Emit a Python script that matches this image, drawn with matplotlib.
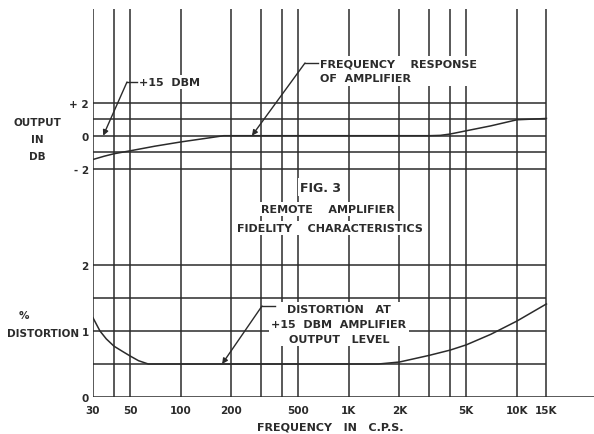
import matplotlib
matplotlib.use("Agg")
import matplotlib.pyplot as plt
from matplotlib.lines import Line2D

# ---------------- data ----------------
grid_freqs = [30, 40, 50, 100, 200, 300, 400, 500, 1000, 2000, 3000, 4000, 5000, 10000, 15000]
xtick_freqs = [30, 50, 100, 200, 500, 1000, 2000, 5000, 10000, 15000]
xtick_labels = ["30", "50", "100", "200", "500", "1K", "2K", "5K", "10K", "15K"]

db_grid = [-2, -1, 0, 1, 2]
db_ticks = [2, 0, -2]
db_tick_labels = ["+ 2", "0", "- 2"]

dist_grid = [0.5, 1.0, 1.5, 2.0]
dist_ticks = [0, 1, 2]
dist_tick_labels = ["0", "1", "2"]

resp_freq = [30, 35, 40, 50, 70, 100, 150, 180, 300, 1000, 3000, 3500, 4000, 5000, 7000, 10000, 15000]
resp_db = [-1.45, -1.25, -1.1, -0.92, -0.64, -0.38, -0.12, 0.0, 0.0, 0.0, 0.0, 0.02, 0.1, 0.3, 0.6, 0.97, 1.05]

dist_freq = [30, 33, 36, 40, 45, 50, 56, 64, 1000, 1500, 2000, 3000, 4000, 5000, 7000, 10000, 15000]
dist_pct = [1.2, 1.0, 0.88, 0.77, 0.69, 0.62, 0.55, 0.5, 0.5, 0.5, 0.53, 0.63, 0.71, 0.79, 0.95, 1.15, 1.41]

# ---------------- figure ----------------
W, H = 594, 435
fig = plt.figure(figsize=(W / 100, H / 100), dpi=100)
fig.patch.set_facecolor("white")

INK = "#2b2b2b"
LW = 1.1
FS = 7.5      # axis labels / ticks
FSA = 8       # annotations
FW = "bold"

def px(x, y):
    return x / W, 1 - y / H

x_left = 93
x_max_freq = 30 * 10 ** ((W - x_left) / 168.0)

# top axes: pixel rows 10..230 ; 0 dB at 136.7, 16.4 px/dB
top_y0, top_y1 = 10, 230
db_zero, db_scale = 136.7, 16.4
ax1 = fig.add_axes([x_left / W, (H - top_y1) / H, 1 - x_left / W, (top_y1 - top_y0) / H])
ax1.set_ylim((db_zero - top_y1) / db_scale, (db_zero - top_y0) / db_scale)

# bottom axes: pixel rows 230..398 ; 0 % at 398, 66 px/%
bot_y0, bot_y1 = 230, 398
pct_scale = 66.0
ax2 = fig.add_axes([x_left / W, (H - bot_y1) / H, 1 - x_left / W, (bot_y1 - bot_y0) / H])
ax2.set_ylim(0, (bot_y1 - bot_y0) / pct_scale)

for ax in (ax1, ax2):
    ax.set_xscale("log")
    ax.set_xlim(30, x_max_freq)
    ax.set_facecolor("none")
    for s in ax.spines.values():
        s.set_visible(False)
    ax.minorticks_off()
    for f in grid_freqs:
        ax.axvline(f, color=INK, lw=LW, zorder=1)
    ax.tick_params(length=0, labelsize=FS, colors=INK, pad=3)

ax1.hlines(db_grid, 30, 15000, color=INK, lw=LW, zorder=1)
ax2.hlines(dist_grid, 30, 15000, color=INK, lw=LW, zorder=1)
ax2.hlines([0], 30, x_max_freq, color=INK, lw=LW, zorder=1)

ax1.plot(resp_freq, resp_db, color=INK, lw=LW, zorder=2)
ax2.plot(dist_freq, dist_pct, color=INK, lw=LW, zorder=2)

ax1.set_xticks([])
ax1.set_yticks(db_ticks)
ax1.set_yticklabels(db_tick_labels)
ax2.set_yticks(dist_ticks)
ax2.set_yticklabels(dist_tick_labels)
ax2.set_xticks(xtick_freqs)
ax2.set_xticklabels(xtick_labels)
ax2.tick_params(axis="x", pad=6)

for t in ax1.get_yticklabels() + ax2.get_yticklabels() + ax2.get_xticklabels():
    t.set_family("DejaVu Sans")
    t.set_fontweight(FW)

# ---------------- labels ----------------
def ftext(x, y, s, ha="center", va="center", box=False, size=FS, **kw):
    kwargs = dict(ha=ha, va=va, fontsize=size, color=INK, linespacing=1.6,
                  fontweight=FW, zorder=5)
    if box:
        kwargs["bbox"] = dict(facecolor="white", edgecolor="none", pad=1.5)
    kwargs.update(kw)
    return fig.text(*px(x, y), s, **kwargs)

ftext(37, 140, "OUTPUT\nIN\nDB", linespacing=1.9)
ftext(24, 316, "%")
ftext(43, 334, "DISTORTION")
ftext(330, 428, "FREQUENCY   IN   C.P.S.", size=FSA)

ftext(321, 188, "FIG. 3", box=True, size=9)
ftext(328, 210, "REMOTE    AMPLIFIER", box=True, size=FSA)
ftext(330, 229, "FIDELITY    CHARACTERISTICS", box=True, size=FSA)

ftext(139, 83, "+15  DBM", ha="left", box=True, size=FSA)
ftext(320, 72, "FREQUENCY    RESPONSE\nOF  AMPLIFIER", ha="left", box=True, size=FSA)
ftext(339, 325, "DISTORTION   AT\n+15  DBM  AMPLIFIER\nOUTPUT   LEVEL", box=True, size=FSA)

# ---------------- leaders with arrows ----------------
def leader(ax, dash_x0, dash_x1, dash_y, target):
    fig.add_artist(Line2D([dash_x0 / W, dash_x1 / W], [1 - dash_y / H, 1 - dash_y / H],
                          color=INK, lw=1.0, transform=fig.transFigure, zorder=6))
    ax.annotate("", xy=target, xycoords="data",
                xytext=(dash_x0, H - dash_y), textcoords="figure pixels",
                arrowprops=dict(arrowstyle="-|>", color=INK, lw=1.0,
                                mutation_scale=8, shrinkA=0, shrinkB=0),
                annotation_clip=False, zorder=6)

leader(ax1, 127, 137, 83, (34.5, 0.0))
leader(ax1, 305, 318, 64, (265, 0.0))
leader(ax2, 262, 275, 307, (176, 0.5))

fig.savefig("out.png", dpi=100, facecolor="white")
